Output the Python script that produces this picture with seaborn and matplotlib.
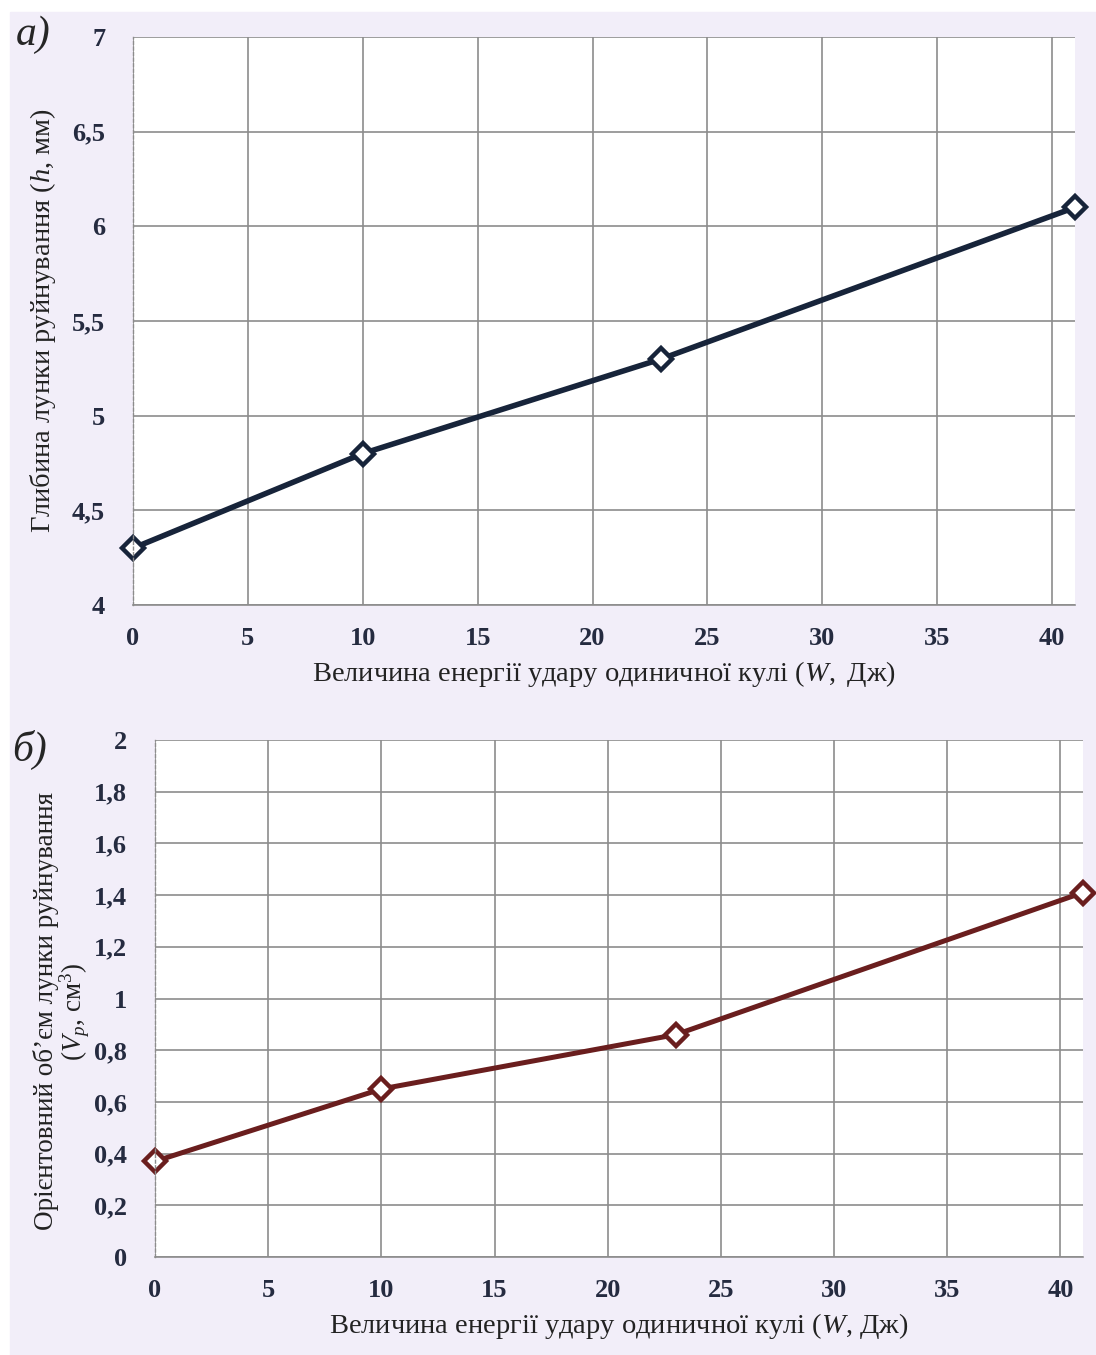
import numpy as np
import pandas as pd
import matplotlib
matplotlib.use('Agg')
import matplotlib.pyplot as plt
import seaborn as sns
from matplotlib.patches import Rectangle

# data
energy = [0, 10, 23, 41]
depth_h = [4.3, 4.8, 5.3, 6.1]
volume_v = [0.37, 0.65, 0.86, 1.41]

xticks = [0, 5, 10, 15, 20, 25, 30, 35, 40]
yticks_a = [4, 4.5, 5, 5.5, 6, 6.5, 7]
yticks_b = [0, 0.2, 0.4, 0.6, 0.8, 1, 1.2, 1.4, 1.6, 1.8, 2]

sns.set_style('white')
plt.rcParams['font.family'] = ['Liberation Serif', 'DejaVu Serif']
plt.rcParams['mathtext.fontset'] = 'custom'
plt.rcParams['mathtext.rm'] = 'Liberation Serif'
plt.rcParams['mathtext.it'] = 'Liberation Serif:italic'

bg = '#f2eef9'
tick_col = '#252b40'
grid_col = '#8c8c8c'

fig = plt.figure(figsize=(10.96, 13.55), dpi=100)
fig.patches.append(Rectangle((10 / 1096, 0), 1, 1 - 12 / 1355,
                             transform=fig.transFigure, color=bg, zorder=-10))

ax1 = fig.add_axes([133 / 1096, 1 - 605 / 1355, (1075 - 133) / 1096, (605 - 37) / 1355])
ax2 = fig.add_axes([155 / 1096, 1 - 1257 / 1355, (1083 - 155) / 1096, (1257 - 740) / 1355])


def fmt(v):
    s = ('%g' % v).replace('.', ',')
    return s


def style(ax, yticks, ylim):
    ax.set_xlim(0, 41)
    ax.set_ylim(*ylim)
    ax.set_xticks(xticks)
    ax.set_yticks(yticks)
    ax.set_xticklabels([fmt(t) for t in xticks])
    ax.set_yticklabels([fmt(t) for t in yticks])
    ax.grid(True, color=grid_col, linewidth=1.2)
    ax.set_axisbelow(True)
    for s in ['top', 'right']:
        ax.spines[s].set_visible(False)
    ax.spines['bottom'].set_color(grid_col)
    ax.spines['bottom'].set_linewidth(1.2)
    ax.spines['left'].set_color(grid_col)
    ax.spines['left'].set_linestyle((0, (2, 2)))
    ax.spines['left'].set_linewidth(1.0)
    ax.tick_params(length=0, labelsize=19, colors=tick_col)
    ax.tick_params(axis='x', pad=16)
    ax.tick_params(axis='y', pad=20)
    for lab in ax.get_xticklabels() + ax.get_yticklabels():
        lab.set_fontweight('bold')
    ax.set_facecolor('white')


df_a = pd.DataFrame({'W': energy, 'h': depth_h})
sns.lineplot(data=df_a, x='W', y='h', ax=ax1, color='#17243a', linewidth=4,
             marker='D', markersize=11, markerfacecolor='white',
             markeredgecolor='#17243a', markeredgewidth=3.2, clip_on=False)
style(ax1, yticks_a, (4, 7))
ax1.set_xlabel('Величина енергії удару одиничної кулі ($W,$ Дж)', fontsize=20.5, color='#222222', labelpad=6)
ax1.set_ylabel('Глибина лунки руйнування ($h$, мм)', fontsize=20.5, color='#222222', labelpad=10)

df_b = pd.DataFrame({'W': energy, 'V': volume_v})
sns.lineplot(data=df_b, x='W', y='V', ax=ax2, color='#6a1e1e', linewidth=3.6,
             marker='D', markersize=11, markerfacecolor='white',
             markeredgecolor='#6a1e1e', markeredgewidth=3.2, clip_on=False)
style(ax2, yticks_b, (0, 2))
ax2.set_xlabel('Величина енергії удару одиничної кулі ($W$, Дж)', fontsize=20.5, color='#222222', labelpad=6)
ax2.set_ylabel('Орієнтовний об’єм лунки руйнування\n($V_p$, см$^3$)', fontsize=19.5,
               color='#222222', linespacing=0.95)
ax2.yaxis.set_label_coords(-0.068, 0.475)

fig.text(16 / 1096, 1 - 35 / 1355, 'а)', fontsize=30, style='italic', va='center', ha='left')
fig.text(12 / 1096, 1 - 750 / 1355, 'б)', fontsize=30, style='italic', va='center', ha='left')

fig.savefig('out.png', dpi=100, facecolor='white')
